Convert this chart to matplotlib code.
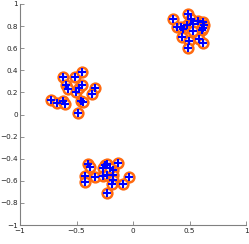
import matplotlib
matplotlib.use("Agg")
import matplotlib.pyplot as plt

# cluster points
x1 = [-0.617, -0.513, -0.454, -0.593, -0.573, -0.504, -0.475, -0.449, -0.336, -0.363,
      -0.726, -0.670, -0.617, -0.602, -0.463, -0.445, -0.484]
y1 = [0.342, 0.337, 0.382, 0.267, 0.231, 0.201, 0.237, 0.267, 0.243, 0.183,
      0.131, 0.107, 0.122, 0.095, 0.125, 0.113, 0.011]
x2 = [0.351, 0.489, 0.513, 0.578, 0.622, 0.631, 0.387, 0.445, 0.475, 0.534,
      0.534, 0.608, 0.622, 0.436, 0.498, 0.587, 0.622, 0.489, 0.422]
y2 = [0.864, 0.907, 0.864, 0.849, 0.834, 0.810, 0.789, 0.774, 0.810, 0.816,
      0.756, 0.765, 0.786, 0.704, 0.665, 0.683, 0.650, 0.599, 0.795]
x3 = [-0.396, -0.381, -0.248, -0.233, -0.130, -0.174, -0.263, -0.425, -0.336, -0.263,
      -0.227, -0.174, -0.180, -0.033, -0.425, -0.189, -0.091, -0.227, -0.204]
y3 = [-0.448, -0.472, -0.457, -0.448, -0.442, -0.502, -0.487, -0.557, -0.568, -0.557,
      -0.548, -0.548, -0.593, -0.563, -0.608, -0.632, -0.632, -0.713, -0.487]

xticks = [-1, -0.5, 0, 0.5, 1]
yticks = [-1, -0.8, -0.6, -0.4, -0.2, 0, 0.2, 0.4, 0.6, 0.8, 1]

fig = plt.figure(figsize=(2.49, 2.44), dpi=100)
ax = fig.add_axes([20/249, 1-225/244, 226/249, 221/244])

xs = x1 + x2 + x3
ys = y1 + y2 + y3
ax.plot(xs, ys, 'o', ms=7, mec='#ff6a10', mfc='white', mew=1.8, ls='none')
ax.plot(xs, ys, '+', ms=5.5, mec='#0000ff', mew=1.5, ls='none')

ax.set_xlim(-1, 1)
ax.set_ylim(-1, 1)
ax.set_xticks(xticks)
ax.set_yticks(yticks)
ax.set_xticklabels([f"{t:g}".replace('-', '\u2212') for t in xticks])
ax.set_yticklabels([f"{t:g}".replace('-', '\u2212') for t in yticks])
for s in ['top', 'right']:
    ax.spines[s].set_visible(False)
for s in ['left', 'bottom']:
    ax.spines[s].set_color('#808080')
    ax.spines[s].set_linewidth(0.8)
ax.tick_params(direction='in', length=3, width=0.6, color='#808080',
               labelsize=5.2, pad=1.5, labelcolor='#222222')
ax.tick_params(axis='x', pad=2.5)

fig.savefig('out.png', dpi=100)
